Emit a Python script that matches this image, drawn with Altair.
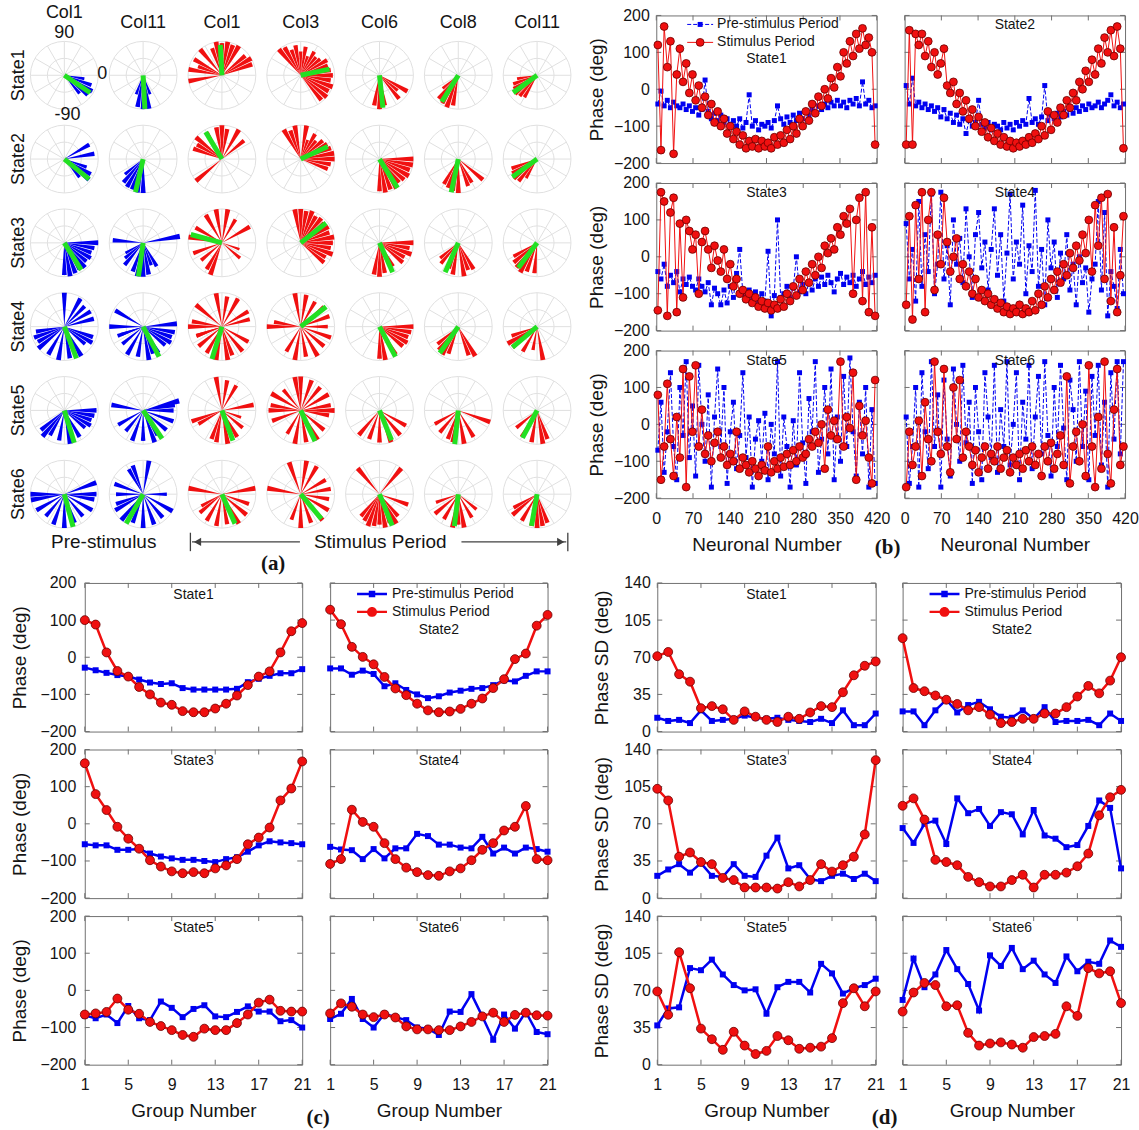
import math

import altair as alt
import pandas as pd

FONT = "Liberation Sans"
SERIF = "Liberation Serif"
BLUE = "#0000f0"
RED = "#f01010"
EDGE = "#6a0000"
GREEN = "#22e022"
GRID = "#e0e0e0"
INK = "#141414"
FRAME = "#707070"
ARROW = "#404040"

STATES = ["State1", "State2", "State3", "State4", "State5", "State6"]
PRE_NAME = "Pre-stimulus Period"
STIM_NAME = "Stimulus Period"

# ---------------------------------------------------------------- (a)
ROSE_COLS = ["Col1", "Col11", "Col1", "Col3", "Col6", "Col8", "Col11"]
ROSE_PERIOD = ["pre", "pre", "stim", "stim", "stim", "stim", "stim"]

# per state, per column: (bin direction in degrees, bin length relative to the outer ring)
ROSE_BINS = [
    [  # State1
        [(-10, 0.6), (-20, 0.85), (-30, 0.95), (-40, 0.9), (-50, 0.7)],
        [(-70, 0.6), (-80, 1.0), (-90, 1.0), (-100, 0.95), (-110, 0.6)],
        [(20, 0.95), (30, 1.0), (40, 0.9), (60, 1.0), (70, 0.95), (80, 1.0), (90, 0.95), (100, 1.0),
         (110, 0.85), (130, 1.0), (150, 0.95), (160, 0.75), (170, 1.0), (190, 1.0)],
        [(-50, 0.95), (-40, 1.0), (-30, 0.95), (-20, 1.0), (-10, 0.9), (0, 0.95), (10, 0.9), (20, 0.85),
         (30, 0.9), (40, 0.75), (50, 0.7), (60, 0.8), (70, 0.6), (80, 0.85), (90, 0.7), (100, 0.9),
         (110, 0.8), (120, 0.95), (130, 1.0)],
        [(-30, 0.95), (-40, 0.7), (-50, 0.9), (-80, 0.9), (-90, 1.0), (-100, 0.9)],
        [(-100, 0.9), (-110, 1.0), (-120, 0.95), (-130, 0.9), (-140, 0.6)],
        [(-120, 0.75), (-130, 0.8), (-140, 0.85), (-150, 0.8), (-160, 0.75), (-170, 0.6)],
    ],
    [  # State2
        [(30, 0.85), (10, 0.9), (-20, 0.7), (-30, 0.9), (-40, 0.95), (-50, 0.7)],
        [(-90, 1.0), (-100, 1.0), (-110, 0.95), (-120, 0.95), (-130, 0.9), (-140, 0.7)],
        [(40, 0.85), (60, 1.0), (80, 0.9), (90, 1.0), (100, 0.95), (120, 0.9), (140, 1.0), (150, 0.85),
         (160, 0.9), (-140, 1.0)],
        [(120, 1.0), (110, 0.9), (100, 1.0), (80, 1.0), (70, 0.6), (60, 0.85), (50, 0.7), (40, 0.85),
         (30, 0.9), (20, 0.95), (10, 1.0), (0, 1.0), (-10, 0.9), (-20, 0.85)],
        [(0, 1.0), (-10, 1.0), (-20, 0.95), (-30, 1.0), (-40, 0.95), (-50, 0.9), (-60, 1.0), (-70, 0.95),
         (-80, 1.0), (-90, 0.95)],
        [(-40, 0.95), (-60, 0.8), (-70, 0.85), (-90, 1.0), (-100, 0.95), (-110, 0.9), (-120, 0.85)],
        [(-120, 0.65), (-130, 0.85), (-140, 0.9), (-150, 0.85), (-160, 0.8)],
    ],
    [  # State3
        [(0, 1.0), (-10, 0.9), (-20, 0.85), (-30, 0.9), (-40, 0.85), (-50, 0.95), (-60, 0.9), (-70, 0.95),
         (-80, 1.0), (-90, 0.95)],
        [(10, 1.1), (175, 0.9), (-60, 0.8), (-70, 0.7), (-80, 0.95), (-90, 1.0), (-100, 1.0), (-110, 0.9),
         (-130, 0.85), (-140, 0.7), (-150, 0.6)],
        [(170, 1.0), (150, 0.9), (120, 0.95), (100, 1.0), (80, 1.0), (60, 0.8), (30, 0.95), (-20, 0.55),
         (-40, 0.7), (-110, 1.0), (-120, 0.9), (-140, 0.8), (200, 0.9)],
        [(100, 1.0), (90, 1.0), (80, 0.95), (70, 1.0), (60, 0.9), (50, 0.95), (40, 0.9), (30, 0.95),
         (20, 0.9), (10, 1.0), (0, 0.95), (-10, 0.9), (-20, 1.0), (-30, 0.85), (-40, 0.9)],
        [(0, 1.0), (-10, 0.9), (-20, 1.0), (-30, 0.85), (-40, 0.9), (-60, 0.8), (-80, 0.9), (-90, 1.0),
         (-100, 0.95)],
        [(-60, 0.9), (-70, 0.85), (-80, 1.0), (-100, 0.95), (-110, 0.8), (-130, 0.8), (-140, 0.7)],
        [(-95, 0.9), (-110, 0.9), (-120, 1.0), (-130, 0.95), (-140, 0.9), (-150, 0.8)],
    ],
    [  # State4
        [(90, 1.0), (60, 0.95), (45, 0.85), (30, 0.9), (15, 0.9), (-20, 0.9), (-30, 0.95), (-40, 0.8),
         (-60, 1.0), (-80, 0.95), (-100, 1.0), (-120, 0.95), (-140, 1.0), (-150, 0.9), (-160, 0.95),
         (-170, 0.85)],
        [(150, 0.95), (180, 1.0), (5, 1.0), (-10, 0.95), (-20, 0.9), (-30, 0.95), (-40, 0.85), (-60, 0.9),
         (-70, 0.85), (-80, 1.0), (-100, 0.9), (-120, 0.95), (-140, 0.8), (-160, 0.7), (200, 0.8)],
        [(100, 1.0), (80, 0.9), (60, 0.95), (30, 0.9), (15, 0.85), (180, 1.0), (170, 0.9), (140, 1.0),
         (-30, 0.9), (-50, 0.95), (-70, 0.9), (-80, 1.0), (-100, 1.0), (-120, 0.9), (-140, 0.9),
         (-160, 0.8), (200, 0.8)],
        [(100, 1.0), (80, 0.95), (60, 0.85), (40, 0.9), (20, 0.9), (0, 0.8), (-20, 0.95), (-40, 0.9),
         (-60, 1.0), (-80, 0.9), (-100, 1.0), (-120, 0.85), (180, 1.0), (170, 0.8)],
        [(0, 1.0), (-10, 0.95), (-20, 0.9), (-30, 0.95), (-40, 0.9), (-60, 0.95), (-80, 1.0), (-90, 0.95)],
        [(-60, 1.0), (-70, 0.9), (-110, 0.85), (-120, 0.95), (-130, 0.9), (-140, 0.8)],
        [(-80, 1.0), (-100, 0.7), (-120, 0.85), (-140, 0.95), (-150, 1.0), (-160, 0.8)],
    ],
    [  # State5
        [(0, 0.95), (-10, 0.9), (-20, 0.85), (-30, 0.9), (-40, 0.8), (-60, 0.9), (-80, 1.0), (-100, 0.9),
         (-120, 0.85), (-130, 1.0), (-140, 0.9)],
        [(15, 1.1), (10, 0.95), (0, 0.9), (170, 0.95), (-20, 0.95), (-40, 0.9), (-60, 0.85), (-70, 1.0),
         (-90, 0.9), (-110, 0.95), (-130, 0.8), (-150, 0.85)],
        [(100, 1.0), (80, 0.9), (60, 0.85), (10, 0.95), (200, 0.95), (210, 0.8), (-20, 0.6), (-40, 0.8),
         (-60, 0.9), (-80, 1.0), (-100, 0.95), (-110, 0.9)],
        [(100, 1.0), (90, 1.0), (70, 0.95), (50, 0.9), (30, 0.95), (10, 0.9), (0, 1.0), (-10, 0.85),
         (180, 0.95), (170, 0.9), (150, 1.0), (130, 0.8), (200, 0.9), (-40, 0.9), (-60, 1.0), (-80, 0.95),
         (-100, 1.0), (-120, 0.8)],
        [(-30, 0.9), (-50, 0.95), (-70, 1.0), (-90, 0.95), (-110, 0.9), (-130, 0.95)],
        [(-20, 1.0), (-60, 0.9), (-80, 1.0), (-100, 0.95), (-110, 0.9), (-130, 0.85), (-150, 0.8)],
        [(-70, 0.9), (-80, 1.0), (-100, 0.95), (-120, 0.9), (-140, 0.8)],
    ],
    [  # State6
        [(20, 1.0), (0, 0.95), (-10, 0.9), (-30, 0.95), (-50, 0.85), (-70, 0.9), (-90, 1.0), (-110, 0.95),
         (-130, 0.85), (-150, 0.95), (-170, 1.0), (180, 1.0)],
        [(80, 1.0), (110, 0.9), (120, 0.85), (160, 0.9), (180, 0.8), (200, 0.85), (0, 0.7), (-30, 1.0),
         (-50, 0.9), (-70, 0.95), (-90, 1.0), (-110, 0.9), (-130, 1.0), (-150, 0.95)],
        [(10, 1.0), (170, 1.0), (-20, 0.85), (-40, 0.95), (-60, 1.0), (-80, 0.9), (-100, 0.95),
         (-120, 0.9), (-140, 0.85), (-150, 0.7)],
        [(110, 1.0), (80, 1.0), (60, 0.95), (30, 0.85), (10, 0.9), (170, 1.0), (-10, 0.85), (-30, 0.95),
         (-50, 1.0), (-70, 0.9), (-90, 1.0), (-110, 0.8)],
        [(50, 1.0), (130, 1.0), (-20, 0.9), (-50, 0.85), (-60, 1.0), (-70, 0.9), (-80, 1.0), (-90, 0.9),
         (-100, 0.95), (-110, 1.0), (-120, 0.9), (-130, 0.85)],
        [(-40, 0.7), (-60, 0.8), (-80, 1.0), (-90, 0.9), (-100, 1.0), (-120, 0.85), (-140, 0.9), (-160, 0.7)],
        [(-70, 0.9), (-80, 0.95), (-90, 1.0), (-100, 0.95), (-120, 0.9), (-140, 0.95), (-150, 0.8)],
    ],
]

# mean phase direction (degrees) and resultant length for every rose
ROSE_MEAN = [
    [(-34, 0.92), (-87, 0.99), (93, 0.9), (12, 0.87), (-84, 0.96), (-122, 0.92), (-144, 0.87)],
    [(-39, 0.94), (-103, 1.0), (121, 0.93), (25, 0.88), (-58, 1.0), (-102, 1.0), (-144, 0.9)],
    [(-58, 0.94), (-98, 1.0), (165, 0.95), (38, 0.95), (-66, 0.95), (-114, 0.95), (-127, 0.92)],
    [(-69, 1.0), (-62, 1.0), (-107, 1.0), (38, 0.95), (-62, 1.0), (-125, 0.95), (-140, 0.95)],
    [(-73, 1.0), (-56, 1.0), (-70, 0.95), (-65, 1.0), (-68, 0.95), (-96, 1.0), (-118, 0.92)],
    [(-75, 1.0), (-120, 1.0), (-66, 0.95), (-50, 0.95), (-68, 1.0), (-97, 0.95), (-100, 0.95)],
]

# ---------------------------------------------------------------- (b)
NEURON = list(range(3, 420, 6))

B_PRE = [
    [-40, -5, -45, -30, -50, -35, -45, -50, -40, -55,
     -45, -60, -50, -70, -55, 25, -60, -80, -65, -85,
     -70, -90, -80, -95, -85, -100, -80, -105, -90, -15,
     -100, -85, -110, -95, -100, -90, -105, -85, -45, -80,
     -95, -75, -90, -70, -85, -65, -80, -60, -70, -55,
     -65, -45, -55, -40, -50, -35, -45, -30, -45, -35,
     -50, -30, -40, -25, -45, 20, -40, -30, -50, -45],
    [10, -40, 30, -45, -35, -50, -40, -55, -45, -60,
     -50, -75, -55, -80, -65, -90, -70, -95, -80, -120,
     -85, -100, -90, -30, -95, -105, -90, -110, -95, -100,
     -110, -90, -105, -95, -110, -90, -100, -85, -95, -25,
     -90, -80, -95, -75, 10, -85, -70, -80, -65, -75,
     -60, -70, -55, -65, -50, -60, -45, -55, -40, -50,
     -45, -35, -50, -40, -30, -15, -45, -35, -50, -40],
    [-40, -60, -20, -80, -50, -70, -40, -95, -60, -75,
     -55, -80, -90, -60, -80, -95, -70, -130, -85, -100,
     -130, -90, -125, -80, -110, -45, 20, -100, -115, -90,
     -110, -95, -120, -100, -120, 15, -160, -105, 100, -110,
     -100, -80, -110, -85, 0, -95, -75, -100, -70, -90,
     -60, -80, -55, -75, -50, -70, -95, -60, -45, -75,
     -55, -70, -50, -80, -60, -40, -75, -55, -70, -50],
    [90, -60, 20, -120, 150, -80, 60, -40, 170, -100,
     -20, 175, -60, 30, -130, 100, -20, 50, -70, 130,
     0, -110, 60, 120, -30, 40, -90, 20, 130, -50,
     60, -120, 10, 170, -60, 40, -20, 140, -100, 30,
     -40, 180, -80, 20, -130, 100, -30, 40, -110, 10,
     -60, 60, -90, -20, -130, 0, -70, -30, -150, -60,
     -20, 150, -90, 120, -160, -40, -80, -140, 20, -100],
    [-70, 60, -130, -20, 140, -60, -150, 100, -30, 170,
     -90, 50, -140, 160, 0, -100, 80, -170, 20, 150,
     -60, 100, -160, -20, 60, -120, -30, 140, -90, 20,
     -170, -40, 10, -100, 30, -150, 0, -80, 170, -140,
     20, -60, -170, 10, -110, 140, -50, -160, 70, -20,
     170, -130, -40, 100, -80, 150, -150, 20, -100, 130,
     -60, 180, -20, -140, 60, -80, 100, -170, 40, -160],
    [20, -160, -60, 100, -170, 140, -20, -120, 170, -60,
     80, -170, 120, -40, -140, 150, 0, -100, 160, -50,
     60, -160, 100, -20, -150, 140, 20, -90, 160, -130,
     40, -60, 170, -110, 0, 140, -150, 60, -40, 160,
     -120, 20, 130, -80, 170, -30, -140, 100, -60, 160,
     -10, -150, 120, 40, -100, 170, -60, 90, -150, 130,
     -30, 160, -110, 60, -170, 140, -40, 170, -80, 170],
]

B_STIM = [
    [120, -165, 170, 60, 130, -175, 40, 110, 20, 70,
     -10, 40, -30, 10, -50, -20, -70, -40, -90, -60,
     -100, -80, -120, -100, -135, -115, -150, -125, -160, -140,
     -155, -135, -160, -140, -155, -145, -160, -130, -150, -125,
     -145, -110, -135, -100, -120, -80, -100, -60, -85, -40,
     -65, -20, -45, 0, -25, 30, 5, 60, 35, 100,
     70, 130, 90, 150, 110, 165, 120, 140, 100, -150],
    [-150, 160, -150, 150, 120, 150, 90, 130, 60, 100,
     40, 70, 110, 10, -10, 20, -40, -10, -60, -30,
     -80, -55, -100, -75, -115, -90, -130, -105, -140, -120,
     -150, -130, -155, -140, -160, -145, -155, -140, -150, -130,
     -145, -120, -135, -100, -125, -60, -110, -70, -90, -50,
     -70, -30, -50, -10, -30, 20, 0, 50, 20, 80,
     40, 110, 70, 140, 100, 160, 90, 170, 110, -160],
    [-145, 175, 150, -160, 120, 160, -150, 90, -110, 100,
     70, 20, 60, -100, 40, 70, 20, -30, 30, -10,
     -40, 20, -60, -20, -80, -60, -100, -90, -115, -100,
     -125, -110, -135, -120, -140, -125, -145, -130, -140, -115,
     -135, -100, -120, -80, -105, -60, -90, -40, -70, -20,
     -50, 0, -30, 30, 10, 50, 20, 80, 60, 110,
     90, 130, -100, 100, 160, -120, 175, -150, 80, -160],
    [-130, 110, -170, 140, -60, 175, -150, 100, 175, -90,
     60, -20, 160, 40, -40, 0, 50, -60, -20, -80,
     -40, -100, -60, -110, -90, -120, -100, -130, -115, -140,
     -125, -150, -135, -155, -140, -150, -130, -155, -140, -150,
     -120, -145, -100, -130, -80, -110, -60, -90, -40, -70,
     -20, -50, 10, -30, 30, -10, 60, 10, 100, -40,
     140, 30, 160, -60, 170, -120, 80, -150, -50, 110],
    [80, -150, -60, 110, -40, -140, 20, -90, 150, -170,
     130, -20, 160, -60, 40, -80, -30, -100, -50, -20,
     -90, -60, -110, -80, -100, -20, -120, -90, -110, -130,
     -100, -120, -140, -110, -125, -60, -130, -100, -120, -90,
     -115, -80, -110, -70, -100, -60, -90, -80, -40, -60,
     -20, -50, 0, -120, 40, -30, 10, -40, 170, -60,
     20, -10, 140, -150, 50, -30, 10, -90, -160, 120],
    [-170, -20, -110, -60, 10, -140, 60, -40, -100, 170,
     -20, -80, 150, -60, -130, 100, -40, 120, -90, -20,
     -60, -110, -70, -130, -90, -60, -120, -80, -100, -60,
     -120, -90, -70, -130, -90, -110, -80, -120, -70, -100,
     -60, -110, -80, -140, -60, -100, -50, -120, -80, -30,
     -110, 130, -160, -60, -20, -100, 0, -140, 160, -60,
     -170, 20, -120, 170, -80, -160, 40, 150, -110, -60],
]

# ---------------------------------------------------------------- (c), (d)
GROUP = list(range(1, 22))

C_PRE = [
    [-28, -35, -42, -48, -52, -60, -68, -72, -70, -83, -87, -87, -87, -87, -85, -67, -58, -50, -43, -43, -32],
    [-30, -30, -47, -36, -45, -78, -70, -88, -100, -110, -105, -95, -90, -85, -83, -75, -62, -65, -50, -38, -38],
    [-55, -58, -58, -70, -70, -68, -80, -88, -93, -97, -97, -100, -103, -95, -90, -75, -58, -47, -50, -52, -55],
    [-62, -69, -71, -95, -68, -93, -66, -66, -27, -33, -56, -56, -64, -66, -35, -80, -64, -80, -64, -68, -75],
    [-68, -75, -65, -88, -42, -75, -80, -30, -47, -72, -50, -40, -70, -72, -58, -43, -57, -57, -83, -80, -100],
    [-77, -63, -23, -77, -100, -63, -72, -80, -100, -103, -120, -57, -58, -10, -70, -133, -65, -103, -58, -112, -118],
]
C_STIM = [
    [100, 88, 13, -37, -52, -80, -100, -122, -128, -145, -148, -148, -138, -125, -103, -75, -52, -38, 13, 70, 92],
    [128, 89, 28, 1, -19, -53, -84, -102, -125, -143, -148, -146, -139, -125, -111, -83, -59, -5, 10, 85, 114],
    [163, 80, 37, -8, -40, -67, -98, -115, -128, -133, -130, -133, -120, -112, -95, -55, -37, -10, 63, 95, 168],
    [-108, -95, 38, 5, -8, -52, -95, -118, -130, -138, -140, -128, -120, -98, -70, -52, -18, -8, 48, -95, -98],
    [-65, -62, -58, -22, -52, -63, -85, -96, -107, -120, -125, -103, -107, -107, -88, -65, -33, -25, -55, -57, -57],
    [-62, -35, -44, -65, -72, -65, -73, -97, -105, -105, -107, -107, -97, -85, -70, -60, -85, -66, -60, -67, -68],
]
D_PRE = [
    [13, 10, 11, 8, 20, 10, 11, 12, 15, 13, 12, 13, 11, 10, 9, 12, 8, 20, 6, 6, 17],
    [19, 19, 6, 20, 30, 18, 25, 28, 21, 14, 13, 20, 12, 23, 9, 10, 10, 11, 6, 17, 10],
    [21, 27, 32, 24, 33, 21, 20, 32, 21, 20, 40, 57, 28, 31, 18, 16, 21, 23, 18, 23, 16],
    [66, 52, 70, 73, 51, 94, 80, 84, 68, 81, 79, 60, 83, 59, 56, 48, 50, 68, 92, 85, 28],
    [37, 53, 54, 91, 89, 99, 85, 75, 70, 71, 48, 73, 78, 78, 68, 95, 86, 67, 72, 75, 81],
    [61, 100, 73, 85, 108, 90, 76, 51, 103, 93, 110, 90, 98, 85, 77, 102, 88, 97, 95, 117, 111],
]
D_STIM = [
    [71, 75, 54, 47, 22, 24, 21, 11, 19, 14, 11, 9, 14, 12, 18, 24, 23, 37, 53, 62, 66],
    [88, 41, 38, 34, 30, 26, 20, 23, 16, 8, 9, 12, 12, 17, 17, 23, 33, 43, 36, 48, 70],
    [103, 92, 39, 43, 34, 32, 19, 17, 10, 10, 10, 9, 15, 11, 17, 32, 25, 31, 39, 60, 130],
    [87, 94, 74, 36, 34, 31, 20, 15, 11, 11, 17, 22, 10, 22, 22, 24, 30, 42, 78, 95, 102],
    [69, 47, 106, 72, 34, 24, 14, 31, 18, 10, 13, 27, 23, 15, 16, 17, 25, 58, 72, 55, 69],
    [50, 68, 77, 75, 55, 56, 30, 18, 20, 21, 19, 16, 26, 27, 29, 55, 46, 91, 86, 88, 58],
]


# ================================================================ rose grid (one chart, cell units)
R_PX = 34            # outer ring radius
CELL_W, CELL_H = 79, 84
BIN_HALF = 4.2       # half opening of one 10-degree bin, leaving a hairline between bins
# the plot area starts where the (c) plots start; labels hang to its left
A_X0 = 60 / CELL_W
A_Y0 = -18 / CELL_H          # room for the column labels
A_Y1 = 6 + 38 / CELL_H       # room for the period labels
A_W = round((7 - A_X0) * CELL_W)
A_H = round((A_Y1 - A_Y0) * CELL_H)


def rose_tables():
    rings, spokes, bins, means = [], [], [], []
    kx, ky = R_PX / CELL_W, R_PX / CELL_H
    for s in range(len(STATES)):
        for c in range(len(ROSE_COLS)):
            cx, cy = c + 0.5, s + 0.5
            fill = BLUE if ROSE_PERIOD[c] == "pre" else RED
            for ring in (0.5, 1.0):
                rings.append(dict(cx=cx, cy=cy, t0=0.0, t1=360.0, r=ring))
            for ang in range(0, 180, 30):
                a = math.radians(ang)
                spokes.append(dict(x=cx - kx * math.cos(a), y=cy + ky * math.sin(a),
                                   x2=cx + kx * math.cos(a), y2=cy - ky * math.sin(a)))
            for ang, length in ROSE_BINS[s][c]:
                t = (90 - ang) % 360
                bins.append(dict(cx=cx, cy=cy, t0=t - BIN_HALF, t1=t + BIN_HALF, r=length, fill=fill))
            ang, length = ROSE_MEAN[s][c]
            a = math.radians(ang)
            means.append(dict(x=cx, y=cy, x2=cx + length * kx * math.cos(a), y2=cy - length * ky * math.sin(a)))
    return [pd.DataFrame(t) for t in (rings, spokes, bins, means)]


def rose_panel():
    xs = alt.Scale(domain=[A_X0, 7], nice=False, zero=False)
    ys = alt.Scale(domain=[A_Y0, A_Y1], nice=False, zero=False, reverse=True)
    th = alt.Scale(domain=[0, 360], range=[0, 2 * math.pi])
    rs = alt.Scale(type="linear", domain=[0, 1], range=[0, R_PX])

    def XY(xf="x", yf="y"):
        return dict(x=alt.X(f"{xf}:Q", scale=xs, axis=None), y=alt.Y(f"{yf}:Q", scale=ys, axis=None))

    rings, spokes, bins, means = rose_tables()
    arc_enc = dict(theta=alt.Theta("t0:Q", scale=th, stack=False), theta2="t1:Q",
                   radius=alt.Radius("r:Q", scale=rs), **XY("cx", "cy"))
    ring_l = alt.Chart(rings).mark_arc(fillOpacity=0, stroke=GRID, strokeWidth=1).encode(**arc_enc)
    spoke_l = alt.Chart(spokes).mark_rule(color=GRID, strokeWidth=1).encode(**XY(), x2="x2:Q", y2="y2:Q")
    bin_l = alt.Chart(bins).mark_arc(strokeWidth=0).encode(fill=alt.Fill("fill:N", scale=None), **arc_enc)
    mean_l = alt.Chart(means).mark_rule(color=GREEN, strokeWidth=5).encode(**XY(), x2="x2:Q", y2="y2:Q")

    # column labels (the first one sits higher, above its polar tick label)
    heads = pd.DataFrame({"x": [c + 0.5 for c in range(len(ROSE_COLS))],
                          "y": [-0.24] + [-0.12] * (len(ROSE_COLS) - 1), "t": ROSE_COLS})
    head_l = alt.Chart(heads).mark_text(font=FONT, fontSize=18, color=INK).encode(**XY(), text="t:N")
    rows = pd.DataFrame({"x": [-0.076] * len(STATES), "y": [s + 0.5 for s in range(len(STATES))], "t": STATES})
    row_l = alt.Chart(rows).mark_text(font=FONT, fontSize=18, color=INK, angle=270).encode(**XY(), text="t:N")
    ticks = pd.DataFrame({"x": [0.5, 0.98, 0.54], "y": [0.0, 0.49, 0.98], "t": ["90", "0", "-90"]})
    tick_l = alt.Chart(ticks).mark_text(font=FONT, fontSize=18, color=INK).encode(**XY(), text="t:N")

    # period labels with the stimulus-period arrow
    foot_y = 6.07
    flabels = pd.DataFrame({"x": [1.0, 4.51], "y": [foot_y, foot_y], "t": ["Pre-stimulus", "Stimulus Period"]})
    flab_l = alt.Chart(flabels).mark_text(font=FONT, fontSize=19, color=INK).encode(**XY(), text="t:N")
    shafts = pd.DataFrame({"x": [2.12, 5.54], "x2": [3.49, 6.87], "y": [foot_y, foot_y]})
    shaft_l = alt.Chart(shafts).mark_rule(color=ARROW, strokeWidth=1.3).encode(**XY(), x2="x2:Q")
    stops = pd.DataFrame({"x": [2.10, 6.89], "y": [foot_y - 0.11, foot_y - 0.11], "y2": [foot_y + 0.11] * 2})
    stop_l = alt.Chart(stops).mark_rule(color=ARROW, strokeWidth=1.3).encode(**XY(), y2="y2:Q")
    heads_df = pd.DataFrame({"x": [2.19, 6.80], "y": [foot_y, foot_y], "s": ["triangle-left", "triangle-right"]})
    arrow_l = alt.Chart(heads_df).mark_point(filled=True, color=ARROW, size=70, opacity=1).encode(
        **XY(), shape=alt.Shape("s:N", scale=None))
    tag = pd.DataFrame({"x": [3.15], "y": [6.33], "t": ["(a)"]})
    tag_l = alt.Chart(tag).mark_text(font=SERIF, fontSize=21, fontWeight="bold", color=INK).encode(
        **XY(), text="t:N")

    return alt.layer(ring_l, spoke_l, bin_l, mean_l, head_l, row_l, tick_l,
                     shaft_l, stop_l, arrow_l, flab_l, tag_l).properties(
        width=A_W, height=A_H, view=alt.ViewBackground(strokeOpacity=0))


# ================================================================ line panels
TICK_LEN = 5


def key_paths(half, thick, dashed, sq, rad):
    if dashed:
        segs = [(-half, -half + 0.8), (-half + 1.3, -0.65), (0.65, half - 1.3), (half - 0.8, half)]
    else:
        segs = [(-half, half)]
    bar = " ".join(f"M{a},{-thick}H{b}V{thick}H{a}Z" for a, b in segs)
    pre = bar + f" M{-sq},{-sq}H{sq}V{sq}H{-sq}Z"
    line = f"M{-half},{-thick}H{half}V{thick}H{-half}Z"
    stim = line + f" M{rad},0A{rad},{rad},0,1,1,{-rad},0A{rad},{rad},0,1,1,{rad},0Z"
    return pre, stim


def drawn_key(st):
    """Legend of the (b) grid, drawn as sample marks inside the first plot."""
    cx, half, tx = st["key_cx"], st["key_half"], st["key_tx"]
    y_pre, y_stim = st["key_rows"]
    one = pd.DataFrame({"k": [0]})
    return [
        alt.Chart(one).mark_rule(color=BLUE, strokeWidth=st["pre_width"], strokeDash=st["pre_dash"]).encode(
            x=alt.value(cx - half), x2=alt.value(cx + half), y=alt.value(y_pre)),
        alt.Chart(one).mark_point(shape="square", filled=True, color=BLUE, size=st["sq_size"], opacity=1).encode(
            x=alt.value(cx), y=alt.value(y_pre)),
        alt.Chart(pd.DataFrame({"t": [PRE_NAME]})).mark_text(
            font=FONT, fontSize=14, color=INK, align="left").encode(
            x=alt.value(tx), y=alt.value(y_pre), text="t:N"),
        alt.Chart(one).mark_rule(color=RED, strokeWidth=st["stim_width"]).encode(
            x=alt.value(cx - half), x2=alt.value(cx + half), y=alt.value(y_stim)),
        alt.Chart(one).mark_point(shape="circle", filled=True, fill=RED, stroke=EDGE, strokeWidth=0.8,
                                  size=st["circ_size"], opacity=1).encode(x=alt.value(cx), y=alt.value(y_stim)),
        alt.Chart(pd.DataFrame({"t": [STIM_NAME]})).mark_text(
            font=FONT, fontSize=14, color=INK, align="left").encode(
            x=alt.value(tx), y=alt.value(y_stim), text="t:N"),
    ]


def line_panel(xs, pre, stim, idx, st):
    left = idx % 2 == 0
    bottom = idx >= 4
    w, h = st["size"]
    df = pd.DataFrame({"x": xs, "pre": pre, "stim": stim})
    x_axis = alt.Axis(values=st["xticks"], labels=bottom, title=st["xtitle"] if bottom else None,
                      labelFontSize=16, titleFontSize=19, labelPadding=12, titlePadding=9,
                      labelFlush=False, labelOverlap=False)
    y_axis = alt.Axis(values=st["yticks"], labels=left, title=st["ytitle"] if left else None,
                      labelFontSize=16, titleFontSize=19, labelPadding=st["ylabel_pad"],
                      titlePadding=st["ytitle_pad"], labelOverlap=False)
    xsc = alt.Scale(domain=st["xdom"], nice=False, zero=False)
    ysc = alt.Scale(domain=st["ydom"], nice=False, zero=False)

    def X(field="x"):
        return alt.X(f"{field}:Q", scale=xsc, axis=x_axis)

    def Y(field):
        return alt.Y(f"{field}:Q", scale=ysc, axis=y_axis)

    # inward tick marks on all four sides of the box
    xt = alt.Chart(pd.DataFrame({"v": st["xticks"]}))
    yt = alt.Chart(pd.DataFrame({"v": st["yticks"]}))
    tick_style = dict(color=FRAME, strokeWidth=1)
    layers = [
        xt.mark_rule(**tick_style).encode(x=X("v"), y=alt.value(h), y2=alt.value(h - TICK_LEN)),
        xt.mark_rule(**tick_style).encode(x=X("v"), y=alt.value(0), y2=alt.value(TICK_LEN)),
        yt.mark_rule(**tick_style).encode(y=Y("v"), x=alt.value(0), x2=alt.value(TICK_LEN)),
        yt.mark_rule(**tick_style).encode(y=Y("v"), x=alt.value(w), x2=alt.value(w - TICK_LEN)),
    ]

    base = alt.Chart(df)
    pre_line = dict(color=BLUE, strokeWidth=st["pre_width"])
    if st["pre_dash"]:
        pre_line["strokeDash"] = st["pre_dash"]
    layers += [
        base.mark_line(**pre_line).encode(x=X(), y=Y("pre")),
        base.mark_point(shape="square", filled=True, color=BLUE, size=st["sq_size"], opacity=1).encode(
            x=X(), y=Y("pre")),
        base.mark_line(color=RED, strokeWidth=st["stim_width"]).encode(x=X(), y=Y("stim")),
        base.mark_point(shape="circle", filled=True, fill=RED, stroke=EDGE, strokeWidth=0.8,
                        size=st["circ_size"], opacity=1).encode(x=X(), y=Y("stim")),
    ]
    has_key = idx == st["key_panel"]
    layers.append(
        alt.Chart(pd.DataFrame({"t": [STATES[idx]]})).mark_text(
            font=FONT, fontSize=14, color=INK).encode(
            x=alt.value(w / 2), y=alt.value(st["title_y_key"] if has_key else st["title_y"]), text="t:N")
    )
    if has_key and st.get("key_drawn"):
        layers += drawn_key(st)
    elif has_key:
        dom = [PRE_NAME, STIM_NAME]
        pre_path, stim_path = key_paths(**st["key_shape"])
        leg = alt.Legend(orient="none", legendX=st["key_xy"][0], legendY=st["key_xy"][1], title=None,
                         direction="vertical", labelFont=FONT, labelFontSize=14, labelColor=INK,
                         labelOffset=st["key_label_offset"], symbolSize=100, symbolOpacity=1,
                         symbolStrokeWidth=0, rowPadding=4, padding=0)
        layers.append(
            alt.Chart(pd.DataFrame({"series": dom})).mark_point(filled=True, opacity=0).encode(
                color=alt.Color("series:N", scale=alt.Scale(domain=dom, range=[BLUE, RED]), legend=leg),
                shape=alt.Shape("series:N", scale=alt.Scale(domain=dom, range=[pre_path, stim_path]),
                                legend=leg))
        )
    if idx == 4:
        layers.append(
            alt.Chart(pd.DataFrame({"t": [st["tag"]]})).mark_text(
                font=SERIF, fontSize=21, fontWeight="bold", color=INK).encode(
                x=alt.value(st["tag_xy"][0]), y=alt.value(st["tag_xy"][1]), text="t:N")
        )
    return alt.layer(*layers).properties(width=w, height=h)


def panel_grid(xs, pre_sets, stim_sets, st):
    charts = [line_panel(xs, pre_sets[i], stim_sets[i], i, st) for i in range(len(STATES))]
    return alt.concat(*charts, columns=2, spacing={"row": st["gap"][0], "column": st["gap"][1]},
                      bounds="flush").resolve_scale(color="independent", shape="independent")


PHASE_TICKS = [-200, -100, 0, 100, 200]

STYLE_B = dict(size=(221, 148), gap=(20, 28), xdom=[0, 420], xticks=[0, 70, 140, 210, 280, 350, 420],
               ydom=[-200, 200], yticks=PHASE_TICKS, xtitle="Neuronal Number", ytitle="Phase (deg)",
               ylabel_pad=7, ytitle_pad=7, pre_width=1, pre_dash=[4, 2], stim_width=1, sq_size=25,
               circ_size=62, key_panel=0, title_y=10, title_y_key=44,
               key_drawn=True, key_cx=44, key_half=13, key_tx=61, key_rows=(9, 27),
               tag="(b)", tag_xy=(232, 198))
STYLE_C = dict(size=(218, 149), gap=(18, 28), xdom=[1, 21], xticks=[1, 5, 9, 13, 17, 21],
               ydom=[-200, 200], yticks=PHASE_TICKS, xtitle="Group Number", ytitle="Phase (deg)",
               ylabel_pad=9, ytitle_pad=10, pre_width=2.5, pre_dash=None, stim_width=2.5, sq_size=36,
               circ_size=80, key_panel=1, title_y=12, title_y_key=47, key_xy=(35, 4), key_label_offset=13,
               key_shape=dict(half=3.0, thick=0.25, dashed=False, sq=0.65, rad=1.0),
               tag="(c)", tag_xy=(234, 202))
STYLE_D = dict(STYLE_C, ydom=[0, 140], yticks=[0, 35, 70, 105, 140], ytitle="Phase SD (deg)",
               ylabel_pad=7, ytitle_pad=12, size=(219, 149), gap=(18, 27), tag="(d)", tag_xy=(228, 202))

panel_a = rose_panel()
panel_b = panel_grid(NEURON, B_PRE, B_STIM, STYLE_B)
panel_c = panel_grid(GROUP, C_PRE, C_STIM, STYLE_C)
panel_d = panel_grid(GROUP, D_PRE, D_STIM, STYLE_D)

top = alt.hconcat(panel_a, panel_b, spacing=10).resolve_scale(color="independent", shape="independent")
bottom = alt.hconcat(panel_c, panel_d, spacing=34).resolve_scale(color="independent", shape="independent")

chart = alt.vconcat(top, bottom, spacing=0).resolve_scale(
    color="independent", shape="independent"
).properties(
    padding={"left": 9, "top": 2, "right": 0, "bottom": 0}, background="white"
).configure_view(
    stroke=FRAME, strokeWidth=1
).configure_axis(
    labelFont=FONT, titleFont=FONT, labelColor=INK, titleColor=INK, titleFontWeight="normal",
    ticks=False, domain=False, grid=False
)

chart.save("out.html", embed_options={"renderer": "svg", "actions": False})
